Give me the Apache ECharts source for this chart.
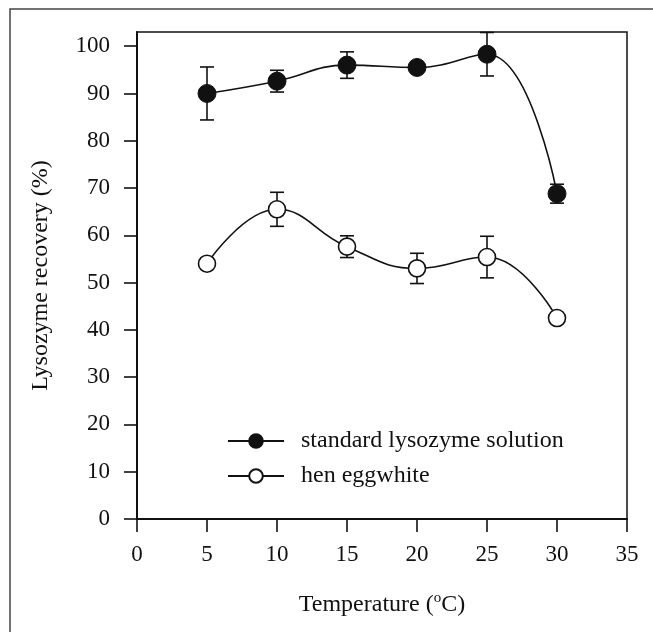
<!DOCTYPE html>
<html>
<head>
<meta charset="utf-8">
<script src="https://cdn.jsdelivr.net/npm/echarts@6/dist/echarts.min.js"></script>
<style>
  html, body { margin: 0; padding: 0; background: #fff; }
  #chart { width: 653px; height: 632px; }
</style>
</head>
<body>
<div id="chart"></div>
<script>
// data
var temps = [5, 10, 15, 20, 25, 30];
var stdMean = [90.0, 92.6, 96.0, 95.5, 98.3, 68.8];
var stdErr = [5.6, 2.3, 2.8, 0.8, 4.6, 2.0];
var henMean = [54.0, 65.5, 57.6, 53.0, 55.4, 42.5];
var henErr = [0.8, 3.6, 2.3, 3.2, 4.4, 0.8];
var xTicks = [0, 5, 10, 15, 20, 25, 30, 35];
var yTicks = [0, 10, 20, 30, 40, 50, 60, 70, 80, 90, 100];
var seriesNames = ['standard lysozyme solution', 'hen eggwhite'];

var ink = '#111';
var serif = '"Liberation Serif", "DejaVu Serif", serif';

function pairs(mean) {
    return temps.map(function (t, i) { return [t, mean[i]]; });
}
function bars(mean, err) {
    return temps.map(function (t, i) { return [t, mean[i] - err[i], mean[i] + err[i]]; });
}

function errorBar(params, api) {
    var x = api.value(0);
    var lo = api.coord([x, api.value(1)]);
    var hi = api.coord([x, api.value(2)]);
    var w = 7;
    var st = { stroke: ink, lineWidth: 1.6 };
    return {
        type: 'group',
        children: [
            { type: 'line', shape: { x1: lo[0], y1: lo[1], x2: hi[0], y2: hi[1] }, style: st },
            { type: 'line', shape: { x1: hi[0] - w, y1: hi[1], x2: hi[0] + w, y2: hi[1] }, style: st },
            { type: 'line', shape: { x1: lo[0] - w, y1: lo[1], x2: lo[0] + w, y2: lo[1] }, style: st }
        ]
    };
}

var chart = echarts.init(document.getElementById('chart'));
chart.setOption({
    backgroundColor: '#fff',
    animation: false,
    textStyle: { fontFamily: serif, color: ink },
    graphic: [{
        type: 'rect',
        shape: { x: 10, y: 9, width: 700, height: 700 },
        style: { fill: 'none', stroke: '#444', lineWidth: 1.5 },
        silent: true
    }],
    grid: {
        left: 137, right: 26, top: 32, bottom: 113,
        show: true, borderColor: ink, borderWidth: 1.5, backgroundColor: 'transparent'
    },
    legend: {
        orient: 'vertical',
        left: 222,
        top: 424,
        itemWidth: 56,
        itemHeight: 17,
        itemGap: 11,
        data: seriesNames,
        textStyle: { fontFamily: serif, fontSize: 24, color: ink, lineHeight: 24, padding: [0, 0, 0, 12] }
    },
    xAxis: {
        type: 'value',
        min: 0, max: 35, interval: 5,
        name: 'Temperature ({sup|o}C)',
        nameLocation: 'middle',
        nameGap: 72,
        nameTextStyle: {
            fontFamily: serif, fontSize: 24, color: ink,
            rich: { sup: { fontFamily: serif, fontSize: 15, color: ink, padding: [0, 0, 12, 0] } }
        },
        axisLine: { lineStyle: { color: ink, width: 2 } },
        axisTick: { inside: false, length: 13, lineStyle: { color: ink, width: 1.6 }, customValues: xTicks },
        axisLabel: { fontFamily: serif, fontSize: 23, color: ink, margin: 24, customValues: xTicks },
        splitLine: { show: false }
    },
    yAxis: {
        type: 'value',
        min: 0, max: 103, interval: 10,
        name: 'Lysozyme recovery (%)',
        nameLocation: 'middle',
        nameGap: 84,
        nameTextStyle: { fontFamily: serif, fontSize: 24, color: ink },
        axisLine: { lineStyle: { color: ink, width: 2 } },
        axisTick: { inside: false, length: 13, lineStyle: { color: ink, width: 1.6 }, customValues: yTicks },
        axisLabel: { fontFamily: serif, fontSize: 23, color: ink, margin: 27, customValues: yTicks },
        splitLine: { show: false }
    },
    series: [
        {
            type: 'custom', renderItem: errorBar, data: bars(stdMean, stdErr),
            encode: { x: 0, y: [1, 2] }, z: 1, silent: true
        },
        {
            type: 'custom', renderItem: errorBar, data: bars(henMean, henErr),
            encode: { x: 0, y: [1, 2] }, z: 1, silent: true
        },
        {
            name: seriesNames[0],
            type: 'line',
            data: pairs(stdMean),
            smooth: 0.45,
            symbol: 'circle',
            symbolSize: 18,
            itemStyle: { color: ink, borderColor: ink, borderWidth: 1 },
            lineStyle: { color: ink, width: 1.6 },
            z: 3
        },
        {
            name: seriesNames[1],
            type: 'line',
            data: pairs(henMean),
            smooth: 0.45,
            symbol: 'circle',
            symbolSize: 17,
            itemStyle: { color: '#fff', borderColor: ink, borderWidth: 1.6 },
            lineStyle: { color: ink, width: 1.6 },
            z: 3
        }
    ]
});
</script>
</body>
</html>
